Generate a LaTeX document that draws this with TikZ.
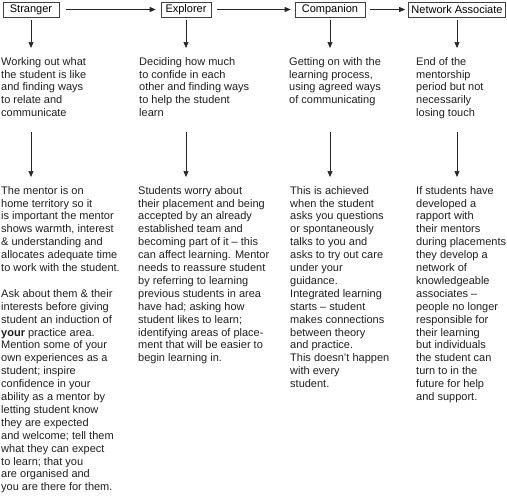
\documentclass[tikz,border=0pt]{standalone}
\usepackage{fontspec}
\setmainfont{Liberation Sans}
\usetikzlibrary{arrows.meta}
\begin{document}
\begin{tikzpicture}[x=1pt,y=-1pt,
  stage/.style={draw=black!75, line width=0.7pt, minimum height=15pt, inner sep=0pt, font=\fontsize{11pt}{13pt}\selectfont},
  txt/.style={anchor=north west, inner sep=0pt, align=left, text=black!88, font=\fontsize{11pt}{12.9pt}\selectfont},
  arr/.style={-{Triangle[length=6pt,width=5pt]}, line width=0.7pt, draw=black!85}]
\useasboundingbox (0,0) rectangle (507,496);

\node[stage, minimum width=56pt] (s1) at (31,9.5) {Stranger};
\node[stage, minimum width=50pt] (s2) at (186,9.5) {Explorer};
\node[stage, minimum width=70pt] (s3) at (330,9.5) {Companion};
\node[stage, minimum width=97pt] (s4) at (457,9.5) {Network Associate};

\draw[arr, shorten <=7pt, shorten >=5pt] (s1) -- (s2);
\draw[arr, shorten <=6pt, shorten >=4pt] (s2) -- (s3);
\draw[arr, shorten <=5pt, shorten >=3pt] (s3) -- (s4);

\node[txt] (a1) at (1,57) {Working out what\\the student is like\\and finding ways\\to relate and\\communicate};
\node[txt] (a2) at (139,57) {Deciding how much\\to confide in each\\other and finding ways\\to help the student\\learn};
\node[txt] (a3) at (289,57) {Getting on with the\\learning process,\\using agreed ways\\of communicating};
\node[txt] (a4) at (416,57) {End of the\\mentorship\\period but not\\necessarily\\losing touch};

\node[txt] (b1) at (1,186) {The mentor is on\\home territory so it\\is important the mentor\\shows warmth, interest\\\& understanding and\\allocates adequate time\\to work with the student.\\[12.9pt]Ask about them \& their\\interests before giving\\student an induction of\\\textbf{your} practice area.\\Mention some of your\\own experiences as a\\student; inspire\\confidence in your\\ability as a mentor by\\letting student know\\they are expected\\and welcome; tell them\\what they can expect\\to learn; that you\\are organised and\\you are there for them.};
\node[txt] (b2) at (138,186) {Students worry about\\their placement and being\\accepted by an already\\established team and\\becoming part of it -- this\\can affect learning. Mentor\\needs to reassure student\\by referring to learning\\previous students in area\\have had; asking how\\student likes to learn;\\identifying areas of place-\\ment that will be easier to\\begin learning in.};
\node[txt] (b3) at (290,186) {This is achieved\\when the student\\asks you questions\\or spontaneously\\talks to you and\\asks to try out care\\under your\\guidance.\\Integrated learning\\starts -- student\\makes connections\\between theory\\and practice.\\This doesn’t happen\\with every\\student.};
\node[txt] (b4) at (416,186) {If students have\\developed a\\rapport with\\their mentors\\during placements\\they develop a\\network of\\knowledgeable\\associates --\\people no longer\\responsible for\\their learning\\but individuals\\the student can\\turn to in the\\future for help\\and support.};

\draw[arr, shorten <=3pt, shorten >=9pt] (s1.south) -- (s1.south |- a1.north);
\draw[arr, shorten <=3pt, shorten >=9pt] (s2.south) -- (s2.south |- a2.north);
\draw[arr, shorten <=3pt, shorten >=9pt] (s3.south) -- (s3.south |- a3.north);
\draw[arr, shorten <=3pt, shorten >=9pt] (s4.south) -- (s4.south |- a4.north);

\coordinate (k1) at (31,132);
\coordinate (k2) at (186,132);
\coordinate (k3) at (330,132);
\coordinate (k4) at (457,132);
\draw[arr, shorten >=9pt] (k1) -- (k1 |- b1.north);
\draw[arr, shorten >=9pt] (k2) -- (k2 |- b2.north);
\draw[arr, shorten >=9pt] (k3) -- (k3 |- b3.north);
\draw[arr, shorten >=9pt] (k4) -- (k4 |- b4.north);
\end{tikzpicture}
\end{document}
